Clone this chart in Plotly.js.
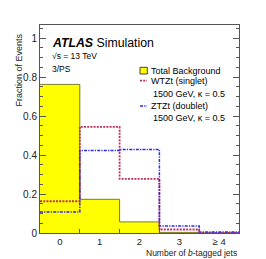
<!DOCTYPE html>
<html>
<head>
<meta charset="utf-8">
<script src="https://cdn.plot.ly/plotly-3.0.1.min.js"></script>
<style>html,body{margin:0;padding:0;background:#fff;}#plot{width:266px;height:259px;}</style>
</head>
<body>
<div id="plot"></div>
<script>
// Bin centers and labels
const binCenters = [0, 1, 2, 3, 4];
const binLabels = ["0", "1", "2", "3", "\u2265 4"];
const binEdges = [-0.5, 0.5, 1.5, 2.5, 3.5, 4.5];
// Fractions of events per bin
const totalBackground = [0.763, 0.173, 0.057, 0.003, 0.0005];
const wtztSinglet = [0.163, 0.545, 0.278, 0.018, 0.001];
const ztztDoublet = [0.108, 0.424, 0.429, 0.036, 0.005];

function stepY(vals) { return vals.concat([vals[vals.length - 1]]); }

const font = "Liberation Sans, Arial, sans-serif";
const axisColor = "#555";
const redDash = "2px,1.2px";
const blueDash = "3px,1.2px,1.2px,1.2px";

const traces = [
  {
    x: binEdges, y: stepY(totalBackground), type: "scatter", mode: "lines",
    line: {shape: "hv", color: "#7a7a30", width: 1},
    fill: "tozeroy", fillcolor: "#ffff00", hoverinfo: "skip", showlegend: false
  },
  {
    x: binEdges, y: stepY(wtztSinglet), type: "scatter", mode: "lines",
    line: {shape: "hv", color: "#c0305a", width: 1.8, dash: redDash},
    hoverinfo: "skip", showlegend: false
  },
  {
    x: binEdges, y: stepY(ztztDoublet), type: "scatter", mode: "lines",
    line: {shape: "hv", color: "#2a2ae8", width: 1.5, dash: blueDash},
    hoverinfo: "skip", showlegend: false
  }
];

const layout = {
  width: 266, height: 259,
  margin: {l: 40, r: 27, t: 25, b: 26},
  paper_bgcolor: "#fff", plot_bgcolor: "#fff",
  font: {family: font, size: 9, color: "#222"},
  showlegend: false,
  xaxis: {
    range: [-0.5, 4.5], tickmode: "array", tickvals: binCenters, ticktext: binLabels,
    ticks: "", showgrid: false, zeroline: false,
    showline: true, linecolor: axisColor, linewidth: 1, mirror: true,
    tickfont: {size: 9.5, color: "#222"},
    minor: {tickmode: "array", tickvals: [0.5, 1.5, 2.5, 3.5], ticks: "inside", ticklen: 4, tickcolor: axisColor, showgrid: false}
  },
  yaxis: {
    range: [0, 1.068], tickmode: "array", tickvals: [0, 0.2, 0.4, 0.6, 0.8, 1],
    ticktext: ["0", "0.2", "0.4", "0.6", "0.8", "1"],
    ticks: "inside", ticklen: 6, tickcolor: axisColor, showgrid: false, zeroline: false,
    showline: true, linecolor: axisColor, linewidth: 1, mirror: "ticks",
    tickfont: {size: 10, color: "#222"},
    minor: {dtick: 0.05, ticks: "inside", ticklen: 3, tickcolor: axisColor, showgrid: false}
  },
  shapes: [
    {type: "rect", xref: "paper", yref: "paper", x0: 100/199, x1: 107.3/199, y0: (233-74)/208, y1: (233-67.3)/208,
     fillcolor: "#ffff00", line: {color: "#444", width: 1}},
    {type: "line", xref: "paper", yref: "paper", x0: 100/199, x1: 107/199, y0: (233-80.7)/208, y1: (233-80.7)/208,
     line: {color: "#c0305a", width: 1.8, dash: redDash}},
    {type: "line", xref: "paper", yref: "paper", x0: 100/199, x1: 107/199, y0: (233-106)/208, y1: (233-106)/208,
     line: {color: "#2a2ae8", width: 1.5, dash: blueDash}}
  ],
  annotations: [
    {xref: "paper", yref: "paper", x: 10/199, y: (233-42.7)/208, xanchor: "left", yanchor: "middle", showarrow: false,
     text: "<b><i>ATLAS</i></b> Simulation", font: {size: 12.3, color: "#000"}},
    {xref: "paper", yref: "paper", x: 10/199, y: (233-56)/208, xanchor: "left", yanchor: "middle", showarrow: false,
     text: "\u221As = 13 TeV", font: {size: 8.5, color: "#000"}},
    {xref: "paper", yref: "paper", x: 10/199, y: (233-69)/208, xanchor: "left", yanchor: "middle", showarrow: false,
     text: "3/PS", font: {size: 8.5, color: "#000"}},
    {xref: "paper", yref: "paper", x: 109.3/199, y: (233-70.7)/208, xanchor: "left", yanchor: "middle", showarrow: false,
     text: "Total Background", font: {size: 9, color: "#000"}},
    {xref: "paper", yref: "paper", x: 109.3/199, y: (233-80.7)/208, xanchor: "left", yanchor: "middle", showarrow: false,
     text: "WTZt (singlet)", font: {size: 9, color: "#000"}},
    {xref: "paper", yref: "paper", x: 110.7/199, y: (233-94.3)/208, xanchor: "left", yanchor: "middle", showarrow: false,
     text: "1500 GeV, \u03BA = 0.5", font: {size: 9, color: "#000"}},
    {xref: "paper", yref: "paper", x: 109.3/199, y: (233-106)/208, xanchor: "left", yanchor: "middle", showarrow: false,
     text: "ZTZt (doublet)", font: {size: 9, color: "#000"}},
    {xref: "paper", yref: "paper", x: 110.7/199, y: (233-118.3)/208, xanchor: "left", yanchor: "middle", showarrow: false,
     text: "1500 GeV, \u03BA = 0.5", font: {size: 9, color: "#000"}},
    {xref: "paper", yref: "paper", x: 1, y: (233-252.5)/208, xanchor: "right", yanchor: "middle", showarrow: false,
     text: "Number of <i>b</i>-tagged jets", font: {size: 8.5, color: "#222"}},
    {xref: "paper", yref: "paper", x: (18-40)/199, y: (233-32)/208, xanchor: "center", yanchor: "top", showarrow: false,
     textangle: -90, text: "Fraction of Events", font: {size: 9, color: "#222"}}
  ]
};

Plotly.newPlot("plot", traces, layout, {staticPlot: true, displayModeBar: false});
</script>
</body>
</html>
